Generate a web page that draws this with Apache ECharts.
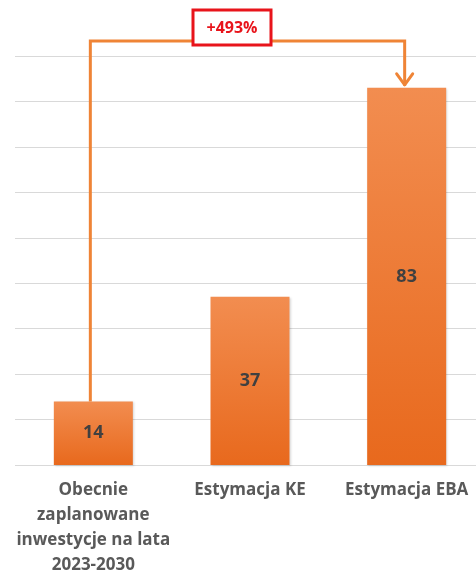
<!DOCTYPE html>
<html>
<head>
<meta charset="utf-8">
<script src="https://cdn.jsdelivr.net/npm/echarts@6/dist/echarts.min.js"></script>
<style>html,body{margin:0;padding:0;background:#fff;}#c{width:476px;height:571px;}</style>
</head>
<body>
<div id="c"></div>
<script>
const categories = ['Obecnie\nzaplanowane\ninwestycje na lata\n2023-2030', 'Estymacja KE', 'Estymacja EBA'];
const values = [14, 37, 83];
const changeLabel = '+493%';

const chart = echarts.init(document.getElementById('c'));
const barGrad = new echarts.graphic.LinearGradient(0, 0, 0, 1, [
  {offset: 0, color: '#F28D50'},
  {offset: 1, color: '#E8691D'}
]);
chart.setOption({
  animation: false,
  grid: {left: 15, right: -9, top: 56, bottom: 106, containLabel: false, outerBoundsMode: 'none'},
  xAxis: {
    type: 'category', data: categories,
    axisLine: {show: false}, axisTick: {show: false},
    axisLabel: {interval: 0, color: '#595959', fontSize: 17, fontWeight: 'bold', fontFamily: 'Open Sans', lineHeight: 25, margin: 13}
  },
  yAxis: {
    type: 'value', min: 0, max: 90, interval: 10,
    axisLabel: {show: false}, axisLine: {show: false}, axisTick: {show: false},
    splitLine: {lineStyle: {color: '#D9D9D9', width: 1}}
  },
  series: [{
    type: 'bar', data: values, barWidth: 79,
    itemStyle: {color: barGrad, shadowColor: 'rgba(0,0,0,0.15)', shadowBlur: 2, shadowOffsetX: 1, shadowOffsetY: 1},
    label: {show: true, position: 'inside', color: '#404040', fontSize: 18, fontWeight: 'bold', fontFamily: 'Open Sans'}
  }]
});

const p0 = chart.convertToPixel({xAxisIndex: 0, yAxisIndex: 0}, [0, values[0]]);
const p2 = chart.convertToPixel({xAxisIndex: 0, yAxisIndex: 0}, [2, values[2]]);
const x0 = p0[0] - 3, x2 = p2[0] - 2, yTop = 41;
const lineColor = '#EF8436';
chart.setOption({
  graphic: [
    {type: 'polyline', z: 10, shape: {points: [[x0, p0[1]], [x0, yTop], [x2, yTop], [x2, p2[1] - 2]]},
     style: {stroke: lineColor, lineWidth: 3, fill: null}},
    {type: 'polyline', z: 10, shape: {points: [[x2 - 8, p2[1] - 14], [x2, p2[1] - 3], [x2 + 8, p2[1] - 14]]},
     style: {stroke: lineColor, lineWidth: 3, fill: null, lineCap: 'round', lineJoin: 'round'}},
    {type: 'rect', z: 11, shape: {x: 193, y: 10, width: 78, height: 35},
     style: {fill: '#fff', stroke: '#E8141B', lineWidth: 3}},
    {type: 'text', z: 12, style: {x: 232, y: 28, text: changeLabel, fill: '#E8141B', font: 'bold 16px "Open Sans"', align: 'center', verticalAlign: 'middle'}}
  ]
});
</script>
</body>
</html>
